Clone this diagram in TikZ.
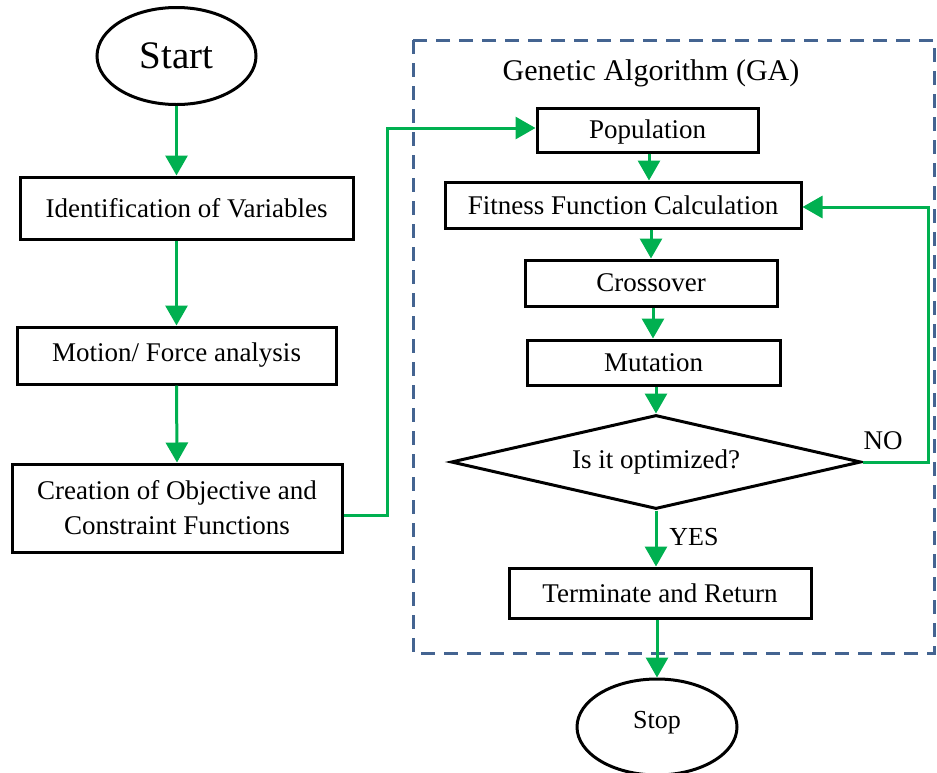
\documentclass[tikz,border=0pt]{standalone}
\usepackage{fontspec}
\setmainfont{Liberation Serif}
\usetikzlibrary{arrows.meta,shapes.geometric,calc}
\definecolor{flowgreen}{RGB}{0,176,80}
\definecolor{gablue}{RGB}{68,100,145}
\begin{document}
\begin{tikzpicture}[x=1pt,y=-1pt,
  every node/.style={font=\fontsize{27}{35}\selectfont},
  procbox/.style={draw=black,line width=3pt,rectangle,inner sep=0pt,align=center},
  term/.style={draw=black,line width=3pt,ellipse,inner sep=0pt},
  decis/.style={draw=black,line width=3pt,diamond,inner sep=0pt,aspect=4.36},
  flow/.style={draw=flowgreen,line width=3pt,-{Triangle[width=22pt,length=20pt]}},
  lbl/.style={inner sep=0pt}]
\useasboundingbox (0,0) rectangle (937,772);
% GA dashed frame
\draw[gablue,line width=3pt,dash pattern=on 14pt off 9pt] (413,40) rectangle (934,653);
\node[lbl,font=\fontsize{30}{34}\selectfont] (galbl) at (651,73) {Genetic Algorithm (GA)};
% left column
\node[term,minimum width=159pt,minimum height=97pt,font=\fontsize{39}{44}\selectfont] (start) at (176.5,56) {Start};
\node[procbox,minimum width=333pt,minimum height=62pt] (ident) at (186.5,208) {Identification of Variables};
\node[procbox,minimum width=319pt,minimum height=57pt] (motion) at (176.5,355.5) {Motion/ Force analysis};
\node[procbox,minimum width=330pt,minimum height=88pt] (creat) at (177,508) {Creation of Objective and\\Constraint Functions};
% GA column
\node[procbox,minimum width=221pt,minimum height=44pt] (pop) at (647.5,130) {\raisebox{-8pt}[0pt][0pt]{Population}};
\node[procbox,minimum width=356pt,minimum height=46pt] (fit) at (623,205) {Fitness Function Calculation};
\node[procbox,minimum width=252pt,minimum height=46pt] (cross) at (651,283) {Crossover};
\node[procbox,minimum width=253pt,minimum height=45pt] (mut) at (653.5,362.5) {Mutation};
\node[decis,minimum width=410pt,minimum height=94pt] (dia) at (656,462) {Is it optimized?};
\node[procbox,minimum width=302pt,minimum height=50pt] (termr) at (660,593) {Terminate and Return};
\node[term,minimum width=160pt,minimum height=96pt,font=\fontsize{26}{30}\selectfont] (stop) at (657,727) {\raisebox{15pt}{Stop}};
\node[lbl] (nolbl) at (883,441) {NO};
\node[lbl,font=\fontsize{26}{30}\selectfont] (yeslbl) at (694,537) {YES};
% connectors
\coordinate (c1) at (387,515);
\draw[flow] (start.south) -- (start.south |- ident.north);
\draw[flow] (motion.north |- ident.south) -- (motion.north);
\draw[flow] (motion.south) -- (creat.north);
\draw[flow] ($(creat.east)+(0,7)$) -- (c1) |- ($(pop.west)+(0,-2)$);
\draw[flow] ($(pop.south)+(1.5,0)$) -- ($(pop.south |- fit.north)+(1.5,0)$);
\draw[flow] (cross.north |- fit.south) -- (cross.north);
\draw[flow] ($(cross.south)+(2,0)$) -- ($(mut.north)+(-0.5,0)$);
\draw[flow] (dia.north |- mut.south) -- (dia.north);
\draw[flow] (dia.south) -- (dia.south |- termr.north);
\draw[flow] (stop.north |- termr.south) -- (stop.north);
\coordinate (c2) at (928,462);
\draw[flow] (dia.east) -- (c2) |- ($(fit.east)+(0,2)$);
\end{tikzpicture}
\end{document}
